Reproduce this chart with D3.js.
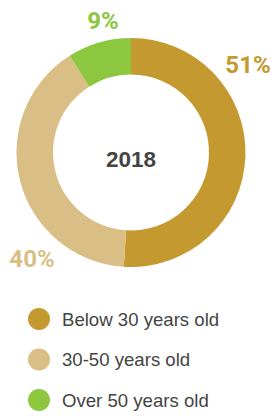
<!DOCTYPE html>
<html lang="en">
  <head>
    <meta charset="utf-8">
    <title>Age breakdown 2018</title>
    <style type="text/css">
    body { margin: 0; background: #fff; }
    .pct { font-family: Roboto, sans-serif; font-weight: 700; font-size: 24px; }
    .year { font-family: "Liberation Sans", Arial, sans-serif; font-weight: 700; font-size: 22.5px; fill: #444; }
    .legend text { font-family: "Liberation Sans", Arial, sans-serif; font-size: 18.6px; fill: #444; }
    </style>
  </head>
  <body>
    <script src="https://d3js.org/d3.v7.min.js"></script>
    <div id="chart"></div>
    <script type="text/javascript">

    // data
    var categories = ["Below 30 years old", "30-50 years old", "Over 50 years old"];
    var values = [51, 40, 9];
    var colors = ["#c49a30", "#d9bf85", "#8dc63f"];
    var year = "2018";

    var width = 275,
        height = 416,
        cx = 131,
        cy = 152.5,
        outer = 114.5,
        inner = 78;

    var svg = d3.select("#chart")
        .append("svg")
        .attr("width", width)
        .attr("height", height);

    var pie = d3.pie().sort(null).value(function(d) { return d; });
    var arc = d3.arc().innerRadius(inner).outerRadius(outer);
    var color = d3.scaleOrdinal().domain(categories).range(colors);

    var g = svg.append("g").attr("transform", "translate(" + cx + "," + cy + ")");
    var arcs = pie(values);

    g.selectAll("path")
      .data(arcs)
      .enter()
      .append("path")
      .attr("d", arc)
      .attr("fill", function(d, i) { return color(categories[i]); });

    g.append("text")
      .attr("class", "year")
      .attr("text-anchor", "middle")
      .attr("y", 14.5)
      .text(year);

    // percentage labels placed outside the ring, along the slice edge
    var labelPos = [
      { x: 117, y: -80 },
      { x: -99, y: 114.5 },
      { x: -28, y: -123.5 }
    ];
    g.selectAll(".pct")
      .data(arcs)
      .enter()
      .append("text")
      .attr("class", "pct")
      .attr("text-anchor", "middle")
      .attr("x", function(d, i) { return labelPos[i].x; })
      .attr("y", function(d, i) { return labelPos[i].y; })
      .attr("fill", function(d, i) { return colors[i]; })
      .text(function(d) { return d.data + "%"; });

    // legend
    var ly = d3.scalePoint().domain(categories).range([319, 400]);
    var legend = svg.append("g").attr("class", "legend");
    var items = legend.selectAll("g")
      .data(categories)
      .enter()
      .append("g")
      .attr("transform", function(d) { return "translate(0," + ly(d) + ")"; });
    items.append("circle")
      .attr("cx", 39)
      .attr("r", 11)
      .attr("fill", function(d) { return color(d); });
    items.append("text")
      .attr("x", 62)
      .attr("y", 6.5)
      .text(function(d) { return d; });

    </script>
  </body>
</html>
